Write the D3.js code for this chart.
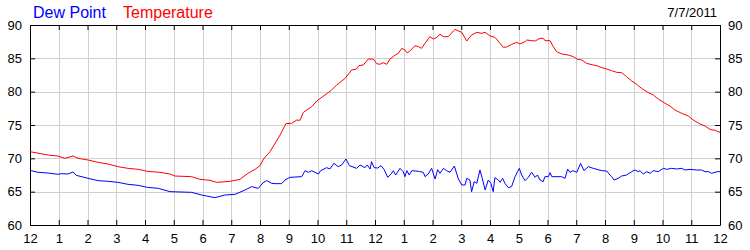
<!DOCTYPE html>
<html><head><meta charset="utf-8">
<script src="https://cdn.jsdelivr.net/npm/d3@7"></script>
<style>
body{margin:0;background:#fff;}
text{font-family:Arial,"Liberation Sans",sans-serif;}
</style></head>
<body><svg id="c" width="750" height="250"></svg>
<script>
const dateLabel = "7/7/2011";
const seriesNames = ["Dew Point", "Temperature"];
const seriesColors = ["#0000ff", "#ff0000"];
const xTickLabels = ["12","1","2","3","4","5","6","7","8","9","10","11","12","1","2","3","4","5","6","7","8","9","10","11","12"];
const yTicks = [60, 65, 70, 75, 80, 85, 90];

const tempHours = [0.00,0.63,0.97,1.21,1.50,1.67,2.02,2.37,2.71,3.06,3.41,3.76,4.08,4.52,4.87,5.04,5.62,5.91,6.26,6.49,6.96,7.30,7.58,7.83,8.00,8.14,8.35,8.70,8.90,9.10,9.28,9.39,9.51,9.80,9.97,10.26,10.49,10.67,10.96,11.19,11.36,11.44,11.59,11.77,11.94,12.06,12.17,12.28,12.41,12.52,12.70,12.81,12.93,13.04,13.12,13.24,13.39,13.51,13.62,13.74,13.91,14.03,14.15,14.26,14.38,14.55,14.78,14.90,15.02,15.19,15.36,15.54,15.71,15.83,16.00,16.17,16.35,16.46,16.58,16.75,16.93,17.04,17.22,17.28,17.45,17.57,17.74,17.86,17.91,18.09,18.20,18.32,18.49,18.72,18.90,19.02,19.19,19.36,19.59,19.71,19.89,20.06,20.23,20.41,20.58,20.75,20.93,21.10,21.27,21.51,21.68,21.85,22.09,22.26,22.43,22.67,22.90,23.07,23.30,23.48,23.65,23.83,24.00];
const tempValues = [71.0,70.5,70.35,70.0,70.35,70.0,69.75,69.4,69.15,68.75,68.5,68.35,68.05,67.9,67.65,67.35,67.25,66.85,66.7,66.4,66.55,66.85,67.75,68.35,68.9,70.0,71.0,73.5,75.2,75.25,75.75,75.7,76.9,77.75,78.6,79.5,80.25,81.0,82.0,83.25,83.4,83.9,84.0,84.9,84.9,84.2,84.1,84.35,84.1,84.9,85.5,85.75,86.5,86.25,85.8,86.2,86.9,86.75,86.5,87.25,88.25,87.9,88.15,88.6,88.25,88.25,89.35,89.1,88.9,87.6,88.5,88.9,88.75,88.9,88.35,88.15,87.25,86.65,86.7,87.1,87.4,87.15,87.5,87.75,87.65,87.6,88.0,88.0,87.65,87.65,86.75,86.0,85.65,85.5,85.25,84.9,84.75,84.25,84.0,83.9,83.6,83.4,83.15,82.9,82.85,82.25,81.6,81.1,80.5,79.85,79.5,78.9,78.25,77.85,77.25,76.75,76.35,75.75,75.15,74.85,74.35,74.2,73.9];

const dewHours = [0.00,0.28,0.63,0.97,1.09,1.32,1.50,1.61,2.02,2.37,2.71,3.06,3.41,3.76,4.08,4.46,4.87,5.62,5.97,6.43,6.78,7.13,7.48,7.71,7.94,8.11,8.23,8.41,8.52,8.75,8.87,9.04,9.45,9.57,9.68,9.80,9.91,10.03,10.11,10.32,10.43,10.57,10.72,10.84,10.99,11.11,11.36,11.48,11.65,11.73,11.83,11.88,11.97,12.09,12.21,12.32,12.44,12.56,12.64,12.72,12.87,12.98,13.04,13.11,13.19,13.28,13.51,13.68,13.74,13.85,13.97,14.09,14.18,14.26,14.38,14.49,14.61,14.76,14.90,15.02,15.13,15.19,15.30,15.36,15.45,15.54,15.65,15.73,15.83,15.94,16.03,16.11,16.17,16.29,16.35,16.44,16.52,16.64,16.75,16.87,17.02,17.10,17.22,17.33,17.45,17.57,17.65,17.74,17.85,17.91,18.03,18.09,18.15,18.49,18.61,18.70,18.78,18.88,19.02,19.15,19.27,19.42,19.59,19.89,20.06,20.17,20.23,20.32,20.46,20.58,20.75,20.93,21.04,21.16,21.22,21.33,21.45,21.57,21.68,21.85,22.03,22.15,22.32,22.49,22.67,22.78,22.96,23.19,23.36,23.48,23.60,23.71,23.90,24.00];
const dewValues = [68.2,67.9,67.8,67.6,67.7,67.65,67.95,67.45,67.0,66.65,66.55,66.4,66.1,65.95,65.65,65.5,65.0,64.9,64.5,64.1,64.5,64.6,65.25,65.75,65.5,66.35,66.65,66.25,66.2,66.2,66.75,67.15,67.25,68.15,67.9,68.15,67.9,67.65,68.15,68.6,68.4,69.25,68.75,69.0,69.9,68.9,68.5,69.0,68.6,69.0,68.4,69.5,68.6,68.55,68.9,68.3,67.15,67.65,68.15,67.5,68.5,68.0,67.25,68.15,67.5,68.15,68.05,67.9,67.25,67.65,68.5,66.9,68.3,67.75,68.5,68.15,67.9,68.85,66.9,66.0,66.0,67.0,66.75,65.0,66.5,66.25,68.25,67.0,65.25,66.75,66.25,65.0,67.1,66.75,66.4,67.0,66.25,65.6,65.75,67.25,68.5,67.5,66.65,67.15,67.9,67.15,67.5,66.75,66.5,67.25,67.25,67.85,67.25,67.25,67.0,68.4,67.9,68.15,67.9,69.25,68.15,68.75,68.5,68.15,68.1,67.5,67.25,66.75,67.0,67.35,67.5,68.0,68.25,68.0,68.15,67.65,68.0,67.75,68.15,68.0,68.5,68.35,68.5,68.4,68.5,68.25,68.35,68.25,68.25,68.0,68.0,67.75,68.0,68.0];

const svg = d3.select("#c");
const L = 30, R = 720, T = 25, B = 225;
const x = d3.scaleLinear().domain([0, 24]).range([L, R]);
const y = d3.scaleLinear().domain([60, 90]).range([B, T]);
const hourTicks = d3.range(0, 25);

// grid
const g = svg.append("g").attr("shape-rendering", "crispEdges");
g.selectAll(".vg").data(hourTicks.slice(1, -1)).join("line")
  .attr("x1", d => Math.round(x(d)) + 0.5).attr("x2", d => Math.round(x(d)) + 0.5)
  .attr("y1", T).attr("y2", B).attr("stroke", "#d0d0d0");
g.selectAll(".hg").data(yTicks.slice(1, -1)).join("line")
  .attr("y1", d => Math.round(y(d)) + 0.5).attr("y2", d => Math.round(y(d)) + 0.5)
  .attr("x1", L).attr("x2", R).attr("stroke", "#d0d0d0");

// axes
const fmt = (i) => xTickLabels[i];
const axB = d3.axisBottom(x).tickValues(hourTicks).tickSizeInner(-5).tickSizeOuter(0).tickPadding(9).tickFormat(fmt);
const axT = d3.axisTop(x).tickValues(hourTicks).tickSizeInner(-5).tickSizeOuter(0).tickFormat("");
const axL = d3.axisLeft(y).tickValues(yTicks).tickSizeInner(-5).tickSizeOuter(0).tickPadding(8);
const axR = d3.axisRight(y).tickValues(yTicks).tickSizeInner(-5).tickSizeOuter(0).tickPadding(8);

function style(sel) {
  sel.selectAll("path").attr("stroke", "#000");
  sel.selectAll("line").attr("stroke", "#000");
  sel.selectAll("text").attr("font-size", 13).attr("fill", "#000").attr("font-family", "Arial, 'Liberation Sans', sans-serif");
}
svg.append("g").attr("transform", `translate(0,${B})`).call(axB).call(style);
svg.append("g").attr("transform", `translate(0,${T})`).call(axT).call(style);
svg.append("g").attr("transform", `translate(${L},0)`).call(axL).call(style);
svg.append("g").attr("transform", `translate(${R},0)`).call(axR).call(style);

// lines
const clip = svg.append("clipPath").attr("id", "pc").append("rect")
  .attr("x", L).attr("y", T).attr("width", R - L).attr("height", B - T);
const line = d3.line().x(d => x(d[0])).y(d => y(d[1]));
const dewData = d3.zip(dewHours, dewValues);
const tempData = d3.zip(tempHours, tempValues);
svg.append("path").datum(dewData).attr("d", line).attr("fill", "none")
  .attr("stroke", seriesColors[0]).attr("stroke-width", 1).attr("clip-path", "url(#pc)");
svg.append("path").datum(tempData).attr("d", line).attr("fill", "none")
  .attr("stroke", seriesColors[1]).attr("stroke-width", 1).attr("clip-path", "url(#pc)");

// legend
svg.append("text").attr("x", 33).attr("y", 18).attr("font-size", 16).attr("fill", seriesColors[0]).text(seriesNames[0]);
svg.append("text").attr("x", 123).attr("y", 18).attr("font-size", 16).attr("fill", seriesColors[1]).text(seriesNames[1]);
svg.append("text").attr("x", 717).attr("y", 17).attr("font-size", 13).attr("text-anchor", "end").attr("fill", "#000").text(dateLabel);
</script></body></html>
